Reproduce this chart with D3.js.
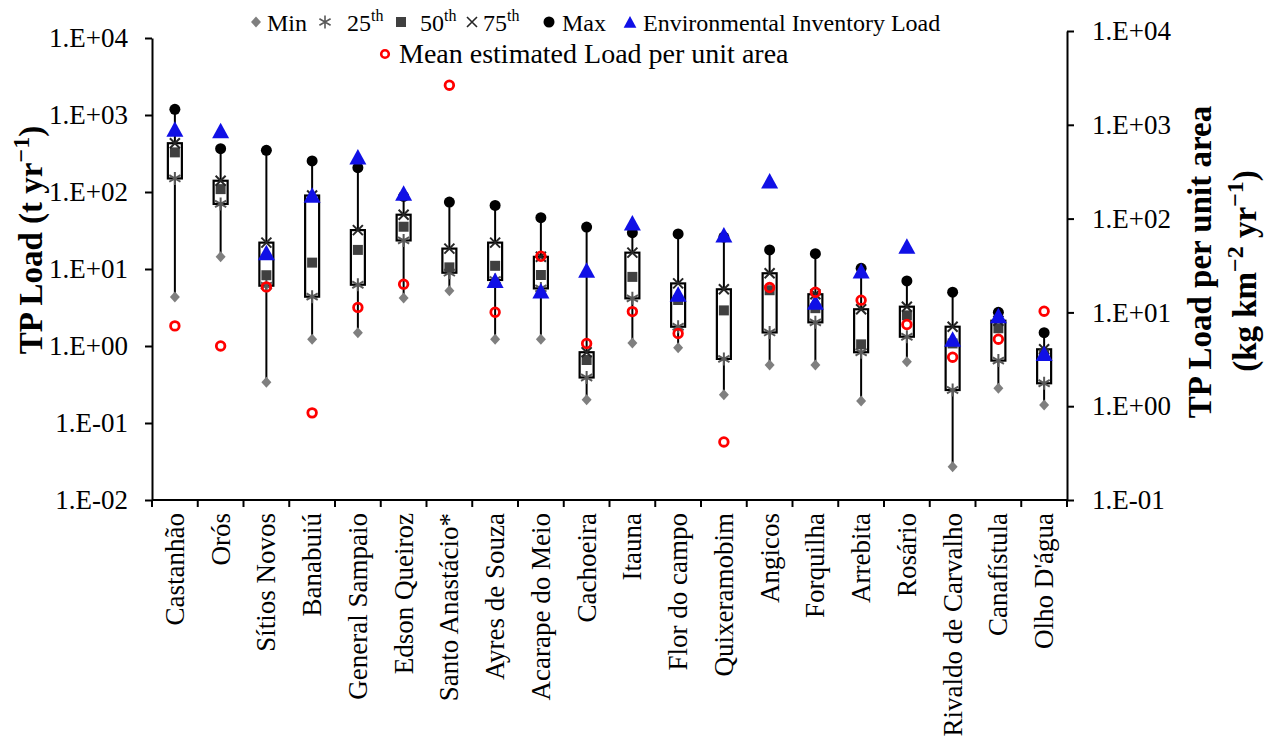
<!DOCTYPE html>
<html>
<head>
<meta charset="utf-8">
<script src="https://cdn.jsdelivr.net/npm/d3@7"></script>
<style>
  body { margin: 0; background: #fff; }
  svg { display: block; font-family: "Liberation Serif", "Times New Roman", serif; }
</style>
</head>
<body>
<div id="chart"></div>
<script>
// reservoirs, in plot order
var reservoirs = ["Castanhão", "Orós", "Sítios Novos", "Banabuiú", "General Sampaio", "Edson Queiroz",
  "Santo Anastácio*", "Ayres de Souza", "Acarape do Meio", "Cachoeira", "Itauna", "Flor do campo",
  "Quixeramobim", "Angicos", "Forquilha", "Arrebita", "Rosário", "Rivaldo de Carvalho", "Canafístula", "Olho D'água"];

// TP load statistics (t/yr), left axis
var minLoad = [4.33, 14.4, 0.338, 1.22, 1.49, 4.2, 5.2, 1.22, 1.22, 0.2, 1.09, 0.95, 0.233, 0.567, 0.567, 0.193, 0.625, 0.027, 0.282, 0.171];
var p25Load = [150, 70, 6.07, 4.37, 6.25, 23.5, 8.95, 7.2, 5.6, 0.39, 4.16, 1.78, 0.68, 1.5, 2.03, 0.83, 1.32, 0.268, 0.646, 0.328];
var p50Load = [327, 109, 8.3, 12.1, 17.7, 35.4, 10.5, 11, 8.36, 0.658, 7.9, 3.96, 2.9, 5.3, 3.1, 1.05, 2.5, 1.08, 1.7, 0.78];
var p75Load = [430, 140, 22, 90, 32, 50.7, 18.4, 22, 14.4, 0.83, 16.3, 6.5, 5.45, 8.8, 4.7, 3.0, 3.24, 1.78, 2.13, 0.906];
var maxLoad = [1186, 365, 348, 253, 207, 88, 74, 67, 46.4, 35, 29.6, 28.5, 26, 17.7, 15.8, 10.2, 7.0, 5.0, 2.74, 1.49];
var inventoryLoad = [652, 625, 16.3, 91, 285, 96, null, 7.1, 5.18, 9.6, 39.6, 4.7, 27.7, 139, 3.7, 9.4, 19.7, 1.22, 2.48, 0.8];

// mean estimated load per unit area (kg/km2/yr), right axis
var meanAreaLoad = [7.18, 4.39, 18.7, 0.849, 11.3, 20, 2643, 10.05, 39.7, 4.66, 10.2, 5.96, 0.416, 18.4, 16.4, 13.5, 7.43, 3.33, 5.18, 10.3];

var leftTicks = [1e-2, 1e-1, 1e0, 1e1, 1e2, 1e3, 1e4];
var leftTickLabels = ["1.E-02", "1.E-01", "1.E+00", "1.E+01", "1.E+02", "1.E+03", "1.E+04"];
var rightTicks = [1e-1, 1e0, 1e1, 1e2, 1e3, 1e4];
var rightTickLabels = ["1.E-01", "1.E+00", "1.E+01", "1.E+02", "1.E+03", "1.E+04"];

var width = 1278, height = 749;
var plotLeft = 152, plotRight = 1067, plotBottom = 500;
var serif = "Liberation Serif, Times New Roman, serif";

var svg = d3.select("#chart").append("svg")
  .attr("width", width)
  .attr("height", height)
  .attr("font-family", serif);

svg.append("rect").attr("width", width).attr("height", height).attr("fill", "#fff");

var x = d3.scaleBand().domain(reservoirs).range([plotLeft, plotRight]);
var y = d3.scaleLog().domain([1e-2, 1e4]).range([plotBottom, 38]);
var y2 = d3.scaleLog().domain([1e-1, 1e4]).range([plotBottom, 31]);
var cx = function (i) { return x(reservoirs[i]) + x.bandwidth() / 2 };

// axes
var leftAxis = svg.append("g")
  .attr("transform", "translate(" + plotLeft + ",0)")
  .call(d3.axisLeft(y).tickValues(leftTicks)
    .tickFormat(function (d, i) { return leftTickLabels[i] })
    .tickSize(7).tickSizeOuter(0).tickPadding(17));

var rightAxis = svg.append("g")
  .attr("transform", "translate(" + plotRight + ",0)")
  .call(d3.axisRight(y2).tickValues(rightTicks)
    .tickFormat(function (d, i) { return rightTickLabels[i] })
    .tickSize(7).tickSizeOuter(0).tickPadding(18));

[leftAxis, rightAxis].forEach(function (g) {
  g.attr("font-family", serif);
  g.select(".domain").attr("stroke", "#000").attr("stroke-width", 2);
  g.selectAll(".tick line").attr("stroke", "#000").attr("stroke-width", 2);
  g.selectAll(".tick text").attr("font-size", 27).attr("fill", "#000");
});

// category axis with ticks on band edges
var bottom = svg.append("g");
bottom.append("line")
  .attr("x1", plotLeft).attr("x2", plotRight)
  .attr("y1", plotBottom).attr("y2", plotBottom)
  .attr("stroke", "#000").attr("stroke-width", 2);
bottom.selectAll(".tk")
  .data(reservoirs.concat(["_end"]))
  .enter()
  .append("line")
  .attr("x1", function (d) { return d == "_end" ? plotRight : x(d) })
  .attr("x2", function (d) { return d == "_end" ? plotRight : x(d) })
  .attr("y1", plotBottom).attr("y2", plotBottom + 7)
  .attr("stroke", "#000").attr("stroke-width", 2);
bottom.selectAll(".lbl")
  .data(reservoirs)
  .enter()
  .append("text")
  .attr("transform", function (d) {
    return "translate(" + (x(d) + x.bandwidth() / 2 + 9) + "," + (plotBottom + 13) + ") rotate(-90)";
  })
  .attr("text-anchor", "end")
  .attr("font-size", 27)
  .text(function (d) { return d });

// whiskers
var idx = d3.range(reservoirs.length);
svg.selectAll(".whisker")
  .data(idx)
  .enter()
  .append("line")
  .attr("x1", cx).attr("x2", cx)
  .attr("y1", function (i) { return y(minLoad[i]) })
  .attr("y2", function (i) { return y(maxLoad[i]) })
  .attr("stroke", "#000").attr("stroke-width", 2);

// boxes 25th-75th
svg.selectAll(".box")
  .data(idx)
  .enter()
  .append("rect")
  .attr("x", function (i) { return cx(i) - 7 })
  .attr("width", 14)
  .attr("y", function (i) { return y(p75Load[i]) })
  .attr("height", function (i) { return y(p25Load[i]) - y(p75Load[i]) })
  .attr("fill", "#fff").attr("stroke", "#000").attr("stroke-width", 2.2);

var diamondPath = "M0,-5.5 L5,0 L0,5.5 L-5,0 Z";
var starPath = "M0,-6.5 L0,6.5 M-5.6,-3.3 L5.6,3.3 M-5.6,3.3 L5.6,-3.3";
var crossPath = "M-5,-5 L5,5 M-5,5 L5,-5";
var squarePath = "M-5,-5 H5 V5 H-5 Z";
var trianglePath = "M0,-8 L8.5,7.5 L-8.5,7.5 Z";

function marks(values, scale, path, attrs) {
  var sel = svg.append("g").selectAll("path")
    .data(idx.filter(function (i) { return values[i] != null }))
    .enter()
    .append("path")
    .attr("d", path)
    .attr("transform", function (i) { return "translate(" + cx(i) + "," + scale(values[i]) + ")" });
  for (var k in attrs) sel.attr(k, attrs[k]);
}

marks(minLoad, y, diamondPath, { fill: "#7f7f7f" });
marks(p25Load, y, starPath, { fill: "none", stroke: "#595959", "stroke-width": 2 });
marks(p50Load, y, squarePath, { fill: "#404040" });
marks(p75Load, y, crossPath, { fill: "none", stroke: "#262626", "stroke-width": 2 });

svg.append("g").selectAll("circle")
  .data(idx)
  .enter()
  .append("circle")
  .attr("cx", cx)
  .attr("cy", function (i) { return y(maxLoad[i]) })
  .attr("r", 5.5)
  .attr("fill", "#000");

marks(inventoryLoad, y, trianglePath, { fill: "#1010e6" });

svg.append("g").selectAll("circle")
  .data(idx)
  .enter()
  .append("circle")
  .attr("cx", cx)
  .attr("cy", function (i) { return y2(meanAreaLoad[i]) })
  .attr("r", 4.3)
  .attr("fill", "none")
  .attr("stroke", "#ff0000")
  .attr("stroke-width", 2.8);

// axis titles
var lt = svg.append("text")
  .attr("transform", "translate(42,240) rotate(-90)")
  .attr("text-anchor", "middle")
  .attr("font-size", 33)
  .attr("font-weight", "bold");
lt.append("tspan").text("TP Load (t yr");
lt.append("tspan").attr("dy", -13).attr("font-size", 24).text("−1");
lt.append("tspan").attr("dy", 13).text(")");

svg.append("text")
  .attr("transform", "translate(1211,262) rotate(-90)")
  .attr("text-anchor", "middle")
  .attr("font-size", 33)
  .attr("font-weight", "bold")
  .text("TP Load per unit area");
var rt2 = svg.append("text")
  .attr("transform", "translate(1256,271) rotate(-90)")
  .attr("text-anchor", "middle")
  .attr("font-size", 33)
  .attr("font-weight", "bold");
rt2.append("tspan").text("(kg km");
rt2.append("tspan").attr("dy", -13).attr("font-size", 24).text("−2");
rt2.append("tspan").attr("dy", 13).text(" yr");
rt2.append("tspan").attr("dy", -13).attr("font-size", 24).text("−1");
rt2.append("tspan").attr("dy", 13).text(")");

// legend
var legendRow1 = [
  { sym: diamondPath, fill: "#7f7f7f", sx: 256, label: "Min", tx: 267 },
  { sym: starPath, stroke: "#595959", sx: 325, label: "25", sup: "th", tx: 347 },
  { sym: squarePath, fill: "#404040", sx: 401, label: "50", sup: "th", tx: 420 },
  { sym: crossPath, stroke: "#262626", sx: 472, label: "75", sup: "th", tx: 483 },
  { sym: "M-5.5,0 a5.5,5.5 0 1,0 11,0 a5.5,5.5 0 1,0 -11,0", fill: "#000", sx: 549, label: "Max", tx: 562 },
  { sym: trianglePath, fill: "#1010e6", sx: 630, label: "Environmental Inventory Load", tx: 643 }
];
var leg = svg.append("g");
legendRow1.forEach(function (d) {
  leg.append("path")
    .attr("d", d.sym)
    .attr("transform", "translate(" + d.sx + ",22)" + (d.sym == trianglePath ? " scale(0.75)" : ""))
    .attr("fill", d.fill || "none")
    .attr("stroke", d.stroke || "none")
    .attr("stroke-width", 1.6);
  var t = leg.append("text").attr("x", d.tx).attr("y", 31).attr("font-size", 24);
  t.append("tspan").text(d.label);
  if (d.sup) t.append("tspan").attr("dy", -10).attr("font-size", 16).text(d.sup);
});
leg.append("circle")
  .attr("cx", 385).attr("cy", 54).attr("r", 3.8)
  .attr("fill", "none").attr("stroke", "#ff0000").attr("stroke-width", 2.6);
leg.append("text").attr("x", 399).attr("y", 63).attr("font-size", 28)
  .text("Mean estimated Load per unit area");
</script>
</body>
</html>
